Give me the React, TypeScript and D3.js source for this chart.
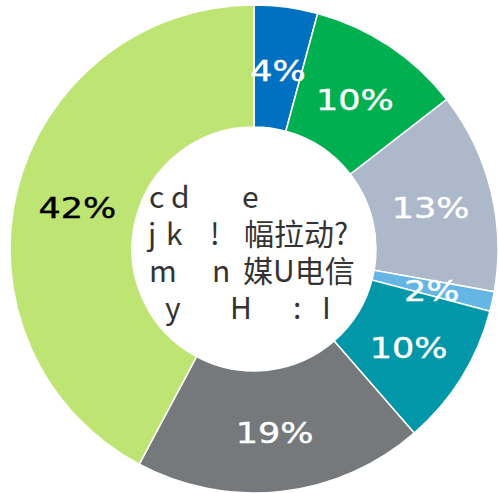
import React from "react";
import * as d3 from "d3";

const categories = ["A", "B", "C", "D", "E", "F", "G"];
const values = [4.2, 10.3, 13.3, 1.3, 9.5, 19.2, 42.2];
const labels = ["4%", "10%", "13%", "2%", "10%", "19%", "42%"];
const colors = ["#0070C0", "#00B050", "#ADB9CA", "#65B5E5", "#0097A9", "#76797C", "#BEE473"];
const labelColors = ["#fff", "#fff", "#fff", "#fff", "#fff", "#fff", "#000"];

const centerLines: { text: string; x: number }[][] = [
  [{ text: "c", x: 149 }, { text: "d", x: 171 }, { text: "e", x: 242 }],
  [{ text: "j", x: 148 }, { text: "k", x: 166 }, { text: "!", x: 210 }, { text: "幅拉动?", x: 244 }],
  [{ text: "m", x: 149 }, { text: "n", x: 212 }, { text: "媒U电信", x: 243 }],
  [{ text: "y", x: 165 }, { text: "H", x: 230 }, { text: ":", x: 293 }, { text: "I", x: 322 }],
];
const centerBaselines = [208, 245, 282, 319];

export default function App() {
  const W = 499, H = 493;
  const cx = 254, cy = 249, R = 244, r = 122;
  const pie = d3.pie<number>().sort(null).value((d) => d);
  const arcs = pie(values);
  const arc = d3.arc<d3.PieArcDatum<number>>().innerRadius(r).outerRadius(R);
  const labelArc = d3.arc<d3.PieArcDatum<number>>().innerRadius(182 * 2 - R).outerRadius(R);
  return (
    <div style={{ position: "absolute", left: 0, top: 0 }}>
      <svg width={W} height={H} style={{ display: "block", background: "#fff" }}>
        <g transform={`translate(${cx},${cy})`}>
          {arcs.map((a, i) => (
            <path key={categories[i]} d={arc(a) || ""} fill={colors[i]} stroke="#fff" strokeWidth={1.5} />
          ))}
          {arcs.map((a, i) => {
            const [lx, ly] = labelArc.centroid(a);
            return (
              <text
                key={"l" + i}
                transform={`translate(${lx},${ly + 3}) scale(1.25,1)`}
                textAnchor="middle"
                dominantBaseline="central"
                fontFamily="DejaVu Sans"
                fontSize={28}
                fill={labelColors[i]}
                stroke={labelColors[i]}
                strokeWidth={0.4}
              >
                {labels[i]}
              </text>
            );
          })}
        </g>
        {centerLines.map((line, li) => (
          <text key={"c" + li} y={centerBaselines[li]} fontFamily="Noto Sans CJK SC" fontSize={30} fill="#333">
            {line.map((seg, si) => (
              <tspan key={si} x={seg.x}>{seg.text}</tspan>
            ))}
          </text>
        ))}
      </svg>
    </div>
  );
}
